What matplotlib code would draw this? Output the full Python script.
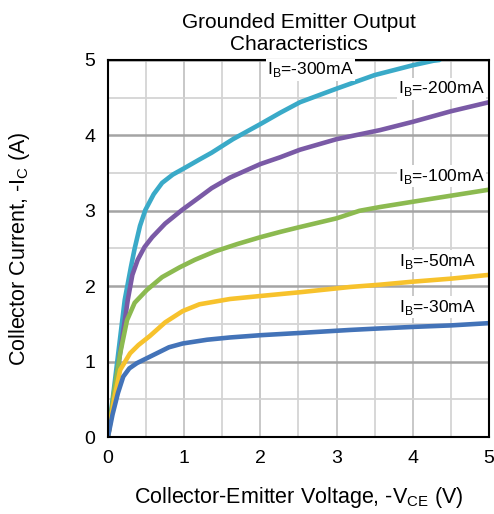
import matplotlib
matplotlib.use('Agg')
import matplotlib.pyplot as plt
from matplotlib.ticker import MultipleLocator

plt.rcParams['font.family'] = ['Liberation Sans', 'DejaVu Sans']

# curves: V_CE (V) vs I_C (A)
v_300 = [0, 0.1, 0.22, 0.3, 0.35, 0.42, 0.49, 0.6, 0.71, 0.85, 1.01, 1.2, 1.36, 1.64, 2.0,
         2.26, 2.52, 3.0, 3.5, 4.0, 4.27, 4.35]
i_300 = [0, 0.82, 1.82, 2.25, 2.5, 2.8, 3.01, 3.22, 3.37, 3.48, 3.57, 3.68, 3.77, 3.95, 4.15,
         4.3, 4.44, 4.62, 4.8, 4.93, 4.99, 5.0]

v_200 = [0, 0.1, 0.2, 0.26, 0.32, 0.39, 0.48, 0.58, 0.75, 0.97, 1.2, 1.36, 1.6, 2.0, 2.26,
         2.52, 3.0, 3.57, 4.0, 4.5, 5.0]
i_200 = [0, 0.7, 1.4, 1.82, 2.15, 2.35, 2.52, 2.65, 2.83, 3.01, 3.18, 3.3, 3.44, 3.62, 3.71,
         3.81, 3.95, 4.07, 4.18, 4.32, 4.44]

v_100 = [0, 0.08, 0.16, 0.25, 0.35, 0.51, 0.71, 0.94, 1.14, 1.4, 1.7, 2.0, 2.26, 2.5, 3.0,
         3.3, 3.57, 4.0, 4.5, 5.0]
i_100 = [0, 0.6, 1.11, 1.55, 1.78, 1.95, 2.12, 2.25, 2.35, 2.46, 2.56, 2.65, 2.72, 2.78, 2.9,
         3.0, 3.05, 3.12, 3.2, 3.28]

v_50 = [0, 0.08, 0.16, 0.29, 0.4, 0.55, 0.75, 0.98, 1.2, 1.6, 2.0, 2.52, 3.18, 3.57, 4.0, 4.5, 5.0]
i_50 = [0, 0.5, 0.89, 1.11, 1.22, 1.34, 1.52, 1.67, 1.76, 1.83, 1.87, 1.92, 1.99, 2.02, 2.06, 2.1, 2.15]

v_30 = [0, 0.06, 0.13, 0.2, 0.28, 0.38, 0.64, 0.8, 0.98, 1.3, 1.6, 2.0, 2.52, 3.18, 3.57, 4.0, 4.5, 5.0]
i_30 = [0, 0.3, 0.58, 0.8, 0.91, 0.98, 1.11, 1.19, 1.24, 1.29, 1.32, 1.35, 1.38, 1.42, 1.44, 1.46,
        1.48, 1.51]

labels = ['-300mA', '-200mA', '-100mA', '-50mA', '-30mA']
label_pos = [(2.66, 4.87), (4.38, 4.62), (4.38, 3.46), (4.32, 2.33), (4.32, 1.72)]

fig = plt.figure(figsize=(4.94, 5.14), dpi=100)
ax = fig.add_axes([0.2186, 0.1498, 0.7713, 0.7335])

ax.set_xlim(0, 5)
ax.set_ylim(0, 5)
ax.xaxis.set_major_locator(MultipleLocator(1))
ax.yaxis.set_major_locator(MultipleLocator(1))
ax.xaxis.set_minor_locator(MultipleLocator(0.5))
ax.yaxis.set_minor_locator(MultipleLocator(0.5))
ax.grid(which='minor', color='#d4d4d4', linewidth=1.3)
ax.grid(which='major', axis='x', color='#c4c4c4', linewidth=1.3)
ax.grid(which='major', axis='y', color='#a4a4a4', linewidth=1.8)
ax.set_axisbelow(True)
ax.tick_params(which='both', length=0, labelsize=14, pad=9)

for s in ax.spines.values():
    s.set_linewidth(1.5)

series = [(v_300, i_300, '#3aaac8'), (v_200, i_200, '#7a5aa6'),
          (v_100, i_100, '#8cba50'), (v_50, i_50, '#f7c22c'),
          (v_30, i_30, '#4373b8')]
for v, i, c in series:
    ax.plot(v, i, color=c, linewidth=3.3, solid_capstyle='round', solid_joinstyle='round')

for lab, (x, y) in zip(labels, label_pos):
    ax.text(x, y, r'I$_\mathregular{B}$=' + lab, ha='center', va='center', fontsize=12.5,
            bbox=dict(facecolor='white', edgecolor='none', pad=1.0))

ax.set_title('Grounded Emitter Output\nCharacteristics', fontsize=15, linespacing=1.25, pad=7)
ax.set_xlabel(r'Collector-Emitter Voltage, -V$_\mathregular{CE}$ (V)', fontsize=15.5, labelpad=13)
ax.set_ylabel(r'Collector Current, -I$_\mathregular{C}$ (A)', fontsize=15.5)
ax.yaxis.set_label_coords(-0.2, 0.5)

fig.savefig('out.png', dpi=100)
